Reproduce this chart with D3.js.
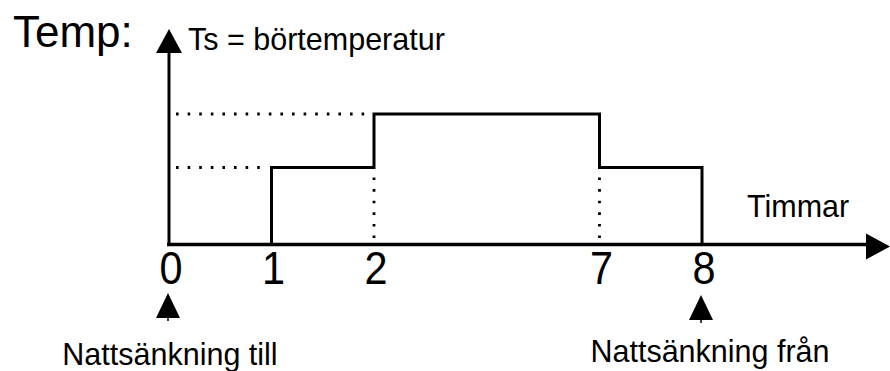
<!DOCTYPE html>
<html>
<head>
<meta charset="utf-8">
<script src="https://cdn.jsdelivr.net/npm/d3@7"></script>
<style>
  html, body { margin: 0; padding: 0; background: #fff; }
  svg { display: block; font-family: "Liberation Sans", Arial, Helvetica, sans-serif; }
</style>
</head>
<body>
<svg id="chart" width="890" height="371"></svg>
<script>
// Night set-back schedule: hours on the time axis and the set temperature
// (relative, 100 = full setting) that applies from each hour on.
const hours = [0, 1, 2, 7, 8];
const tsLevel = [0, 59, 100, 59, 0];
const tickLabels = ["0", "1", "2", "7", "8"];

// Dotted guides: levels traced back to the Ts axis, and hours dropped to the time axis.
const levelGuideLevel = [59, 100];
const levelGuideHour = [1, 2];
const hourGuideHour = [2, 7];
const hourGuideLevel = [59, 59];

// Markers below the time axis.
const markerHour = [0, 8];
const markerText = ["Nattsänkning till", "Nattsänkning från"];

const svg = d3.select("#chart");
const W = 890;

// Time axis is schematic: the span 2–7 h is drawn compressed.
const unit = 102.5;
const x = d3.scaleLinear()
  .domain(hours)
  .range([0, 1, 2, 4.2, 5.2].map(p => 169 + p * unit));
const y = d3.scaleLinear().domain([0, 100]).range([244.5, 114]);

const x0 = x(0), y0 = y(0);

// Dotted guides
const dots = { stroke: "#000", "stroke-width": 2.8, "stroke-dasharray": "2.6 9", fill: "none" };
const g = svg.append("g");
levelGuideLevel.forEach((lv, i) => {
  const l = g.append("line")
    .attr("x1", x0 + 7).attr("x2", x(levelGuideHour[i]) - 8)
    .attr("y1", y(lv)).attr("y2", y(lv));
  Object.entries(dots).forEach(([k, v]) => l.attr(k, v));
});
hourGuideHour.forEach((h, i) => {
  const l = g.append("line")
    .attr("x1", x(h)).attr("x2", x(h))
    .attr("y1", y(hourGuideLevel[i]) + 10).attr("y2", y0 - 4);
  Object.entries(dots).forEach(([k, v]) => l.attr(k, v));
});

// Temperature step curve
const pts = hours.map((h, i) => [h, tsLevel[i]]);
svg.append("path")
  .datum(pts)
  .attr("fill", "none")
  .attr("stroke", "#000")
  .attr("stroke-width", 3)
  .attr("d", d3.line().x(d => x(d[0])).y(d => y(d[1])).curve(d3.curveStepAfter));

// Axes with arrowheads
svg.append("line")
  .attr("x1", x0 - 2).attr("x2", W - 20)
  .attr("y1", y0).attr("y2", y0)
  .attr("stroke", "#000").attr("stroke-width", 3.4);
svg.append("path")
  .attr("d", `M${W},${y0 + 2} L${W - 24},${y0 - 11} L${W - 24},${y0 + 15} Z`)
  .attr("fill", "#000");

svg.append("line")
  .attr("x1", x0).attr("x2", x0)
  .attr("y1", y0 + 1).attr("y2", 50)
  .attr("stroke", "#000").attr("stroke-width", 3);
svg.append("path")
  .attr("d", `M${x0},29 L${x0 - 13},53 L${x0 + 13},53 Z`)
  .attr("fill", "#000");

// Hour tick labels
const axis = d3.axisBottom(x)
  .tickValues(hours)
  .tickFormat((d, i) => tickLabels[i])
  .tickSize(0)
  .tickPadding(7);
const ax = svg.append("g").attr("transform", `translate(0,${y0})`).call(axis);
ax.select(".domain").remove();
ax.selectAll("text")
  .attr("font-family", "Liberation Sans, Arial, sans-serif")
  .attr("font-size", 46)
  .attr("fill", "#000")
  .attr("transform", "scale(0.9,1)");
ax.selectAll(".tick").attr("transform", d => `translate(${x(d) + 2},0)`);

// Titles
svg.append("text").attr("x", 13).attr("y", 47)
  .attr("font-size", 44).attr("fill", "#000").text("Temp:");
svg.append("text").attr("x", 188).attr("y", 50)
  .attr("font-size", 30.5).attr("fill", "#000").text("Ts = börtemperatur");
svg.append("text").attr("x", 747).attr("y", 217)
  .attr("font-size", 30.5).attr("fill", "#000").text("Timmar");

// Markers under the axis
const baseY = [318, 320];
const textY = [364.5, 362];
markerHour.forEach((h, i) => {
  const cx = x(h) - 1;
  svg.append("path")
    .attr("d", `M${cx},${baseY[i] - 25} L${cx - 12},${baseY[i]} L${cx + 12},${baseY[i]} Z`)
    .attr("fill", "#000");
  svg.append("line")
    .attr("x1", cx).attr("x2", cx).attr("y1", baseY[i]).attr("y2", baseY[i] + 3)
    .attr("stroke", "#000").attr("stroke-width", 1.5);
  svg.append("text")
    .attr("x", cx + (i === 0 ? 2 : 9)).attr("y", textY[i])
    .attr("text-anchor", "middle")
    .attr("font-size", 30.5).attr("fill", "#000")
    .text(markerText[i]);
});
</script>
</body>
</html>
